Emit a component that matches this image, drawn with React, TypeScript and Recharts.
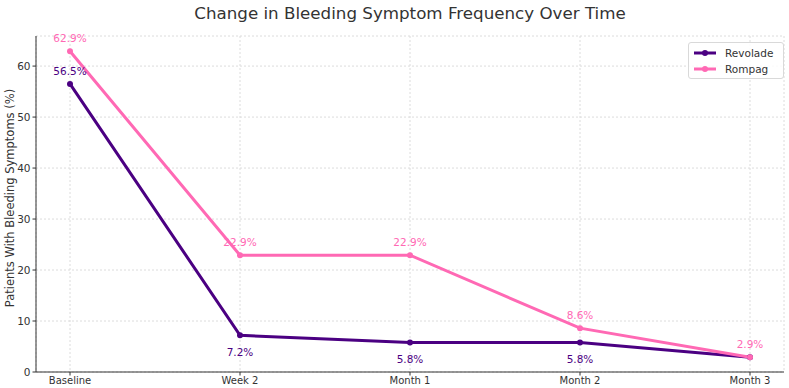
import React from "react";
import { LineChart, Line, XAxis, YAxis, CartesianGrid, LabelList } from "recharts";

const categories = ["Baseline", "Week 2", "Month 1", "Month 2", "Month 3"];
const revolade = [56.5, 7.2, 5.8, 5.8, 2.9];
const rompag = [62.9, 22.9, 22.9, 8.6, 2.9];
const yTicks = [0, 10, 20, 30, 40, 50, 60];

const data = categories.map((c, i) => ({ name: c, Revolade: revolade[i], Rompag: rompag[i] }));

const PURPLE = "#4B0082";
const PINK = "#FF69B4";
const FONT = "DejaVu Sans, sans-serif";

const revLabel = (props: any) => {
  const { x, y, value, index } = props;
  if (index === 4) return null;
  const above = index === 0;
  return (
    <text x={x} y={above ? y - 13 : y + 17} fill={PURPLE} fontSize={10.5} fontFamily={FONT} textAnchor="middle" dominantBaseline="central">
      {value}%
    </text>
  );
};

const romLabel = (props: any) => {
  const { x, y, value } = props;
  return (
    <text x={x} y={y - 13} fill={PINK} fontSize={10.5} fontFamily={FONT} textAnchor="middle" dominantBaseline="central">
      {value}%
    </text>
  );
};

const LegendBox = () => (
  <div style={{ position: "absolute", left: 688, top: 42, boxSizing: "border-box", width: 96, height: 37, background: "rgba(255,255,255,0.85)", border: "1px solid #d9d9d9", borderRadius: 3, padding: "2px 4px", fontFamily: FONT, fontSize: 10.5, color: "#333" }}>
    {[{ n: "Revolade", c: PURPLE }, { n: "Rompag", c: PINK }].map((it) => (
      <div key={it.n} style={{ display: "flex", alignItems: "center", height: 16 }}>
        <svg width={24} height={10} style={{ marginRight: 8 }}>
          <line x1={1} y1={5} x2={23} y2={5} stroke={it.c} strokeWidth={3} />
          <circle cx={12} cy={5} r={3} fill={it.c} />
        </svg>
        <span>{it.n}</span>
      </div>
    ))}
  </div>
);

export default function App() {
  return (
    <div style={{ position: "absolute", left: 0, top: 0, width: 789, height: 388, background: "#fff" }}>
      <LineChart width={789} height={388} data={data} margin={{ top: 36, right: 5, left: 0, bottom: 0 }}>
        <text x={410} y={13} textAnchor="middle" dominantBaseline="central" fontFamily={FONT} fontSize={16.7} fill="#333">
          Change in Bleeding Symptom Frequency Over Time
        </text>
        <text x={10} y={198} transform="rotate(-90 10 198)" textAnchor="middle" dominantBaseline="central" fontFamily={FONT} fontSize={11.5} fill="#333">
          Patients With Bleeding Symptoms (%)
        </text>
        <CartesianGrid stroke="#dcdcdc" strokeDasharray="2 2" />
        <XAxis
          dataKey="name"
          padding={{ left: 34, right: 34 }}
          height={16}
          tick={{ fontSize: 10, fontFamily: FONT, fill: "#333" }}
          tickSize={3.5}
          tickMargin={1}
          axisLine={{ stroke: "#333" }}
          tickLine={{ stroke: "#333" }}
          interval={0}
        />
        <YAxis
          domain={[0, 65.9]}
          ticks={yTicks}
          width={36}
          tick={{ fontSize: 10.5, fontFamily: FONT, fill: "#333" }}
          tickSize={3.5}
          tickMargin={2}
          axisLine={{ stroke: "#333" }}
          tickLine={{ stroke: "#333" }}
        />
        <Line type="linear" dataKey="Revolade" stroke={PURPLE} strokeWidth={3} dot={{ r: 3, fill: PURPLE, stroke: PURPLE, strokeWidth: 0 }} activeDot={false} isAnimationActive={false}>
          <LabelList dataKey="Revolade" content={revLabel} />
        </Line>
        <Line type="linear" dataKey="Rompag" stroke={PINK} strokeWidth={3} dot={{ r: 3, fill: PINK, stroke: PINK, strokeWidth: 0 }} activeDot={false} isAnimationActive={false}>
          <LabelList dataKey="Rompag" content={romLabel} />
        </Line>
      </LineChart>
      <LegendBox />
    </div>
  );
}
